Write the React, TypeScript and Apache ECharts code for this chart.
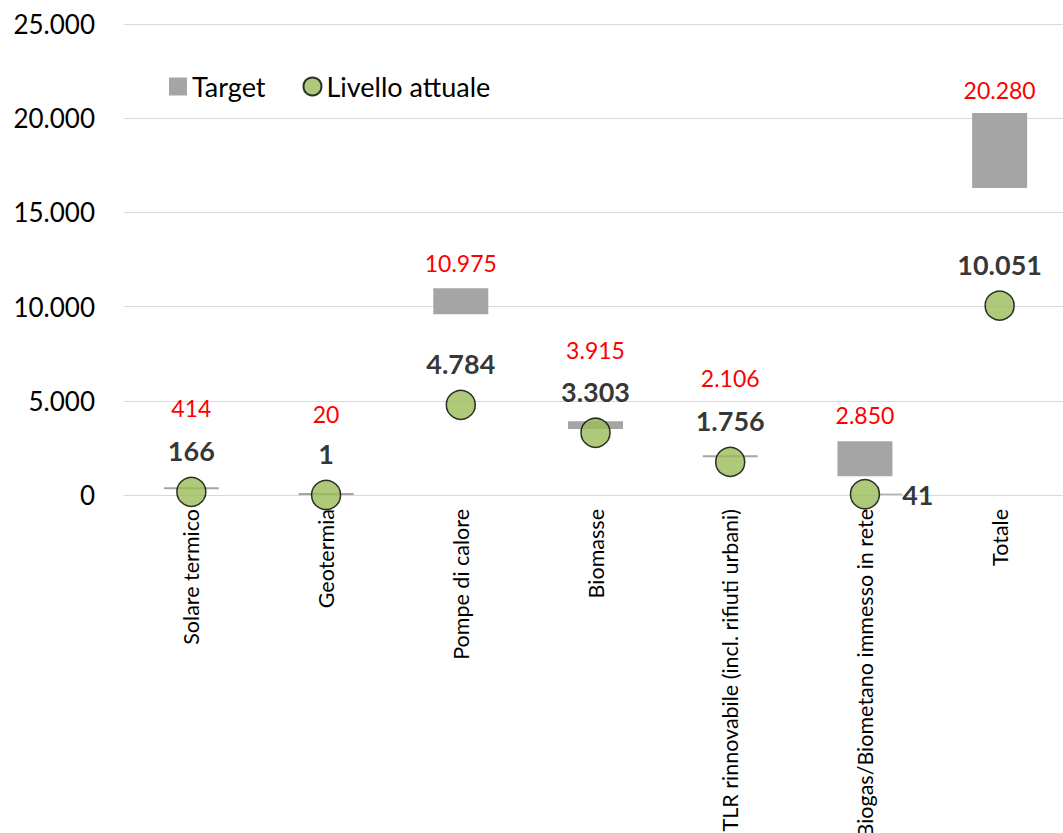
import React, { useEffect, useRef } from 'react';
import * as echarts from 'echarts';

const categories = [
  'Solare termico',
  'Geotermia',
  'Pompe di calore',
  'Biomasse',
  'TLR rinnovabile (incl. rifiuti urbani)',
  'Biogas/Biometano immesso in rete',
  'Totale',
];
// Target range: upper value (labelled) and lower edge of the grey bar
const targetValues = [414, 20, 10975, 3915, 2106, 2850, 20280];
const targetLow = [310, 0, 9600, 3500, 2000, 1000, 16300];
// Current level (green dots)
const currentValues = [166, 1, 4784, 3303, 1756, 41, 10051];
const yTicks = [0, 5000, 10000, 15000, 20000, 25000];

// label placement (style only)
const targetLabelLift = [68, 68, 14, 60, 66, 15, 11];

const fmt = (n: number) => String(n).replace(/\B(?=(\d{3})+(?!\d))/g, '.');
const FONT = 'Lato, "Open Sans", sans-serif';

export default function App() {
  const ref = useRef<HTMLDivElement>(null);
  useEffect(() => {
    if (!ref.current) return;
    const chart = echarts.init(ref.current, undefined, { renderer: 'svg' });
    chart.setOption({
      animation: false,
      textStyle: { fontFamily: FONT },
      legend: {
        data: [
          { name: 'Target', icon: 'rect' },
          { name: 'Livello attuale', icon: 'circle' },
        ],
        left: 164,
        top: 68,
        itemWidth: 18,
        itemHeight: 18,
        itemGap: 37,
        textStyle: { fontSize: 27, color: '#000', fontFamily: FONT },
      },
      grid: {
        left: 124,
        top: 24,
        width: 943,
        height: 471,
        outerBoundsMode: 'none',
        containLabel: false,
      },
      xAxis: {
        type: 'category',
        data: categories,
        axisLine: { lineStyle: { color: '#d9d9d9', width: 1 } },
        axisTick: { show: false },
        axisLabel: {
          rotate: 90,
          interval: 0,
          margin: 14,
          fontSize: 21.5,
          color: '#000',
          fontFamily: FONT,
        },
      },
      yAxis: {
        type: 'value',
        min: yTicks[0],
        max: yTicks[yTicks.length - 1],
        interval: yTicks[1] - yTicks[0],
        axisLine: { show: false },
        axisTick: { show: false },
        splitLine: { lineStyle: { color: '#d9d9d9', width: 1 } },
        axisLabel: {
          formatter: (v: number) => fmt(v),
          fontSize: 26,
          margin: 29,
          color: '#000',
          fontFamily: FONT,
        },
      },
      series: [
        {
          name: 'base',
          type: 'bar',
          stack: 't',
          data: targetLow,
          itemStyle: { color: 'transparent' },
          barWidth: 55,
          silent: true,
        },
        {
          name: 'Target',
          type: 'bar',
          stack: 't',
          data: targetValues.map((v, i) => ({
            value: v - targetLow[i],
            label: { offset: [0, -targetLabelLift[i]] },
          })),
          itemStyle: { color: '#a5a5a5' },
          barWidth: 55,
          barMinHeight: 2,
          label: {
            show: true,
            position: 'top',
            distance: 0,
            color: '#ff0000',
            fontSize: 23,
            fontFamily: FONT,
            formatter: (p: any) => fmt(targetValues[p.dataIndex]),
          },
        },
        {
          name: 'Livello attuale',
          type: 'scatter',
          z: 5,
          data: currentValues.map((v, i) =>
            i === 5
              ? {
                  value: v,
                  label: { position: 'right', distance: 22 },
                  labelLine: { show: true, lineStyle: { color: '#a6a6a6', width: 1.2 } },
                }
              : { value: v }
          ),
          labelLayout: (params: any) => {
            if (params.dataIndex !== 5) return { dy: -41 };
            const r = params.rect;
            const l = params.labelRect;
            const cx = r.x + r.width / 2 + 4;
            const cy = r.y + r.height / 2;
            const ly = l.y + l.height / 2;
            return {
              labelLinePoints: [
                [cx, cy],
                [cx + 14, cy - 1],
                [l.x - 6, ly - 2],
              ],
            };
          },
          symbolSize: 29,
          itemStyle: { color: '#9bbb59', borderColor: '#000', borderWidth: 1.5 },
          label: {
            show: true,
            position: 'inside',
            fontSize: 27,
            fontWeight: 'bold',
            color: '#000',
            fontFamily: FONT,
            formatter: (p: any) => fmt(currentValues[p.dataIndex]),
          },
        },
      ],
    });
    return () => chart.dispose();
  }, []);
  return (
    <div
      ref={ref}
      style={{ position: 'absolute', left: 0, top: 0, width: 1063, height: 833 }}
    />
  );
}
